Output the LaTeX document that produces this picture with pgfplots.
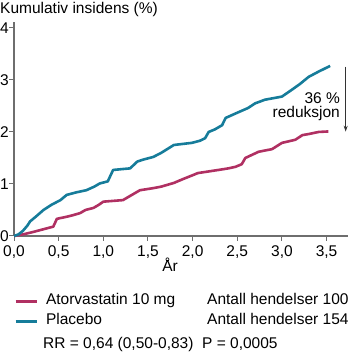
\documentclass[border=0pt]{standalone}
\usepackage{fontspec}
\setmainfont{Liberation Sans}
\usepackage{pgfplots}
\pgfplotsset{compat=1.18}
\usetikzlibrary{arrows.meta}
\definecolor{atorv}{RGB}{176,48,98}
\definecolor{plac}{RGB}{22,124,154}
\definecolor{axgray}{RGB}{110,110,110}
\begin{document}
\begin{tikzpicture}[font=\fontsize{15.5}{18}\selectfont]
\useasboundingbox (0,0) rectangle (350pt,352pt);
\begin{axis}[
  at={(14pt,116pt)}, anchor=south west,
  scale only axis, width=334pt, height=214.3pt,
  xmin=0, xmax=3.74, ymin=0, ymax=4.12,
  axis x line*=bottom, axis y line*=left,
  axis line style={axgray, line width=1.3pt},
  tick style={axgray, line width=1pt},
  tick align=outside, major tick length=5pt,
  xtick={0,0.5,1,1.5,2,2.5,3,3.5},
  xticklabels={{0,0},{0,5},{1,0},{1,5},{2,0},{2,5},{3,0},{3,5}},
  ytick={0,1,2,3,4}, yticklabels={0,1,2,3,4},
  xticklabel style={anchor=base, inner sep=0pt, yshift=-15.7pt},
  yticklabel style={anchor=east, inner sep=0pt, xshift=0pt},
  clip=false,
  legend cell align=left,
  legend style={at={(0,-0.2674)}, anchor=north west, draw=none, fill=none,
    inner sep=0pt, outer sep=0pt, row sep=5pt, column sep=8pt,
    nodes={inner sep=0pt, text height=11pt, text depth=4pt},
    font=\fontsize{15.5}{18}\selectfont},
  legend image code/.code={\draw[#1, line width=3pt] (0pt,-1pt) -- (21pt,-1pt);},
]
\addplot[atorv, line width=2.6pt, line join=round] coordinates {
(0,0) (0.1,0.03) (0.22,0.08) (0.33,0.13) (0.44,0.18) (0.48,0.33) (0.59,0.37)
(0.66,0.4) (0.74,0.44) (0.8,0.5) (0.89,0.54) (0.95,0.6) (1.0,0.66) (1.22,0.69)
(1.3,0.77) (1.41,0.88) (1.56,0.92) (1.65,0.95) (1.79,1.02) (1.9,1.1) (2.06,1.21)
(2.29,1.27) (2.4,1.3) (2.48,1.33) (2.55,1.38) (2.59,1.5) (2.74,1.62) (2.89,1.67)
(3.0,1.79) (3.15,1.85) (3.23,1.94) (3.3,1.96) (3.41,2.0) (3.52,2.01)};
\addlegendentry{Atorvastatin 10 mg}
\addplot[plac, line width=2.6pt, line join=round] coordinates {
(0,0) (0.05,0.03) (0.1,0.1) (0.15,0.2) (0.18,0.28) (0.25,0.38) (0.33,0.5)
(0.42,0.6) (0.52,0.69) (0.59,0.79) (0.7,0.84) (0.81,0.88) (0.9,0.95) (0.96,1.01)
(1.05,1.05) (1.11,1.27) (1.3,1.3) (1.38,1.43) (1.45,1.47) (1.56,1.52) (1.65,1.6)
(1.79,1.75) (1.99,1.79) (2.08,1.83) (2.14,1.88) (2.18,2.0) (2.25,2.05) (2.33,2.13)
(2.37,2.27) (2.5,2.37) (2.62,2.46) (2.7,2.55) (2.81,2.62) (3.0,2.68) (3.11,2.81)
(3.2,2.92) (3.3,3.06) (3.41,3.16) (3.54,3.27)};
\addlegendentry{Placebo}
\node[anchor=base east, inner sep=0pt] at (axis cs:3.651,2.552) {36 \%};
\node[anchor=base east, inner sep=0pt] at (axis cs:3.651,2.269) {reduksjon};
\draw[black!80, line width=0.8pt, -{Stealth[length=6pt,width=4pt]}] (axis cs:3.714,3.256) -- (axis cs:3.714,2.006);
\end{axis}
\node[anchor=base west, inner sep=0pt] at (0pt,338.5pt) {Kumulativ insidens (\%)};
\node[anchor=base, inner sep=0pt] at (170pt,80pt) {År};
\node[anchor=base west, inner sep=0pt] at (207pt,47.7pt) {Antall hendelser 100};
\node[anchor=base west, inner sep=0pt] at (207pt,27.7pt) {Antall hendelser 154};
\node[anchor=base west, inner sep=0pt] at (43pt,4pt) {RR = 0,64 (0,50-0,83)\ \ P = 0,0005};
\end{tikzpicture}
\end{document}
